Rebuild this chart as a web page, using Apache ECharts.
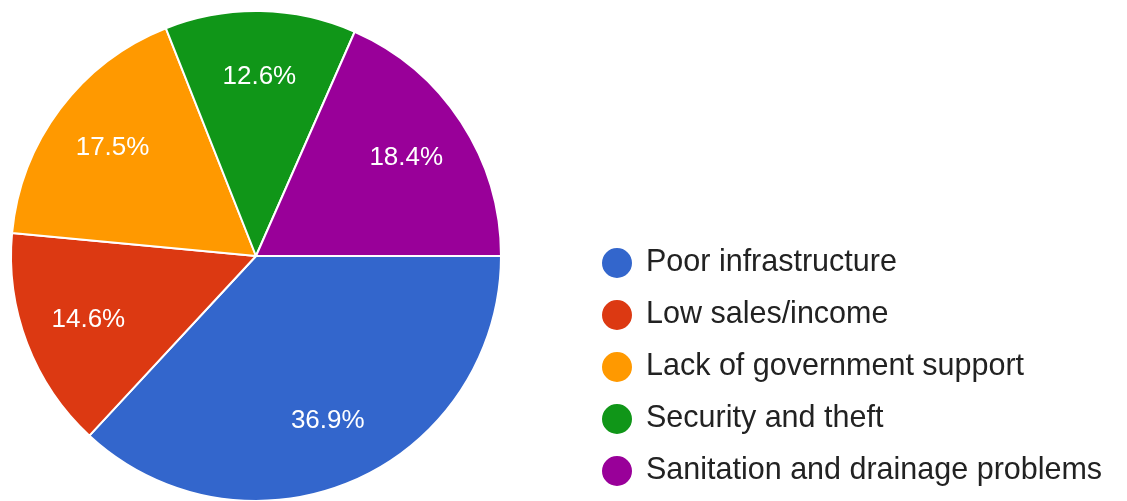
<!DOCTYPE html>
<html>
<head>
<meta charset="utf-8">
<script src="https://cdn.jsdelivr.net/npm/echarts@6/dist/echarts.min.js"></script>
<style>
  html, body { margin: 0; padding: 0; background: #ffffff; }
  #chart { width: 1127px; height: 501px; }
</style>
</head>
<body>
<div id="chart"></div>
<script>
// Survey responses: main challenges faced
const categories = [
  'Poor infrastructure',
  'Low sales/income',
  'Lack of government support',
  'Security and theft',
  'Sanitation and drainage problems'
];
const shares = [36.9, 14.6, 17.5, 12.6, 18.4];
const colors = ['#3366cc', '#dc3912', '#ff9900', '#109618', '#990099'];

const pieData = categories.map((name, i) => ({
  name: name,
  value: shares[i],
  itemStyle: { color: colors[i] }
}));

const center = [256, 256];
const radius = 245;
const fontFamily = '"Liberation Sans", Arial, sans-serif';

const chart = echarts.init(document.getElementById('chart'), null, { renderer: 'canvas' });

chart.setOption({
  backgroundColor: '#ffffff',
  animation: false,
  legend: {
    orient: 'vertical',
    left: 600,
    top: 246,
    width: 520,
    height: 260,
    padding: 0,
    icon: 'circle',
    itemWidth: 32,
    itemHeight: 32,
    itemGap: 18,
    data: categories,
    textStyle: {
      fontFamily: fontFamily,
      fontSize: 30.5,
      lineHeight: 32,
      color: '#222222',
      padding: [0, 0, 0, 8]
    }
  },
  series: [
    {
      // coloured slices
      type: 'pie',
      center: center,
      radius: [0, radius],
      startAngle: 0,
      clockwise: true,
      data: pieData,
      label: { show: false },
      labelLine: { show: false },
      itemStyle: { borderColor: '#ffffff', borderWidth: 2 },
      emphasis: { disabled: true }
    },
    {
      // percentage labels, placed toward the outer part of each slice
      type: 'pie',
      center: center,
      radius: [radius * 0.44, radius],
      startAngle: 0,
      clockwise: true,
      silent: true,
      legendHoverLink: false,
      data: categories.map((name, i) => ({ name: name, value: shares[i] })),
      itemStyle: { color: 'rgba(0,0,0,0)' },
      label: {
        show: true,
        position: 'inside',
        formatter: (p) => p.value.toFixed(1) + '%',
        fontFamily: fontFamily,
        fontSize: 26,
        color: '#ffffff'
      },
      labelLine: { show: false },
      emphasis: { disabled: true }
    }
  ]
});
</script>
</body>
</html>
